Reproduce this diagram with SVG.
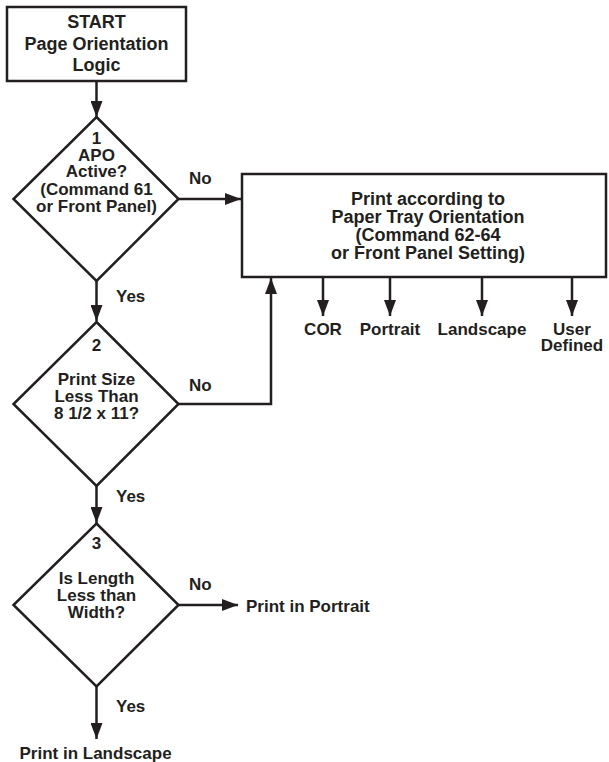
<svg xmlns="http://www.w3.org/2000/svg" width="609" height="762" viewBox="0 0 609 762">
<defs>
<style>
.shape{fill:#fff;stroke:#231f20;stroke-width:2.5}
.line{fill:none;stroke:#231f20;stroke-width:2.5}
text{font-family:"Liberation Sans",Arial,sans-serif;font-weight:bold;fill:#231f20}
.t{font-size:18px;text-anchor:middle}
.d{font-size:17px;text-anchor:middle}
.l{font-size:17px}
.m{font-size:17px;text-anchor:middle}
</style>
<marker id="ah" markerUnits="userSpaceOnUse" markerWidth="16" markerHeight="12" refX="16" refY="6" orient="auto">
<path d="M0,0 L16,6 L0,12 z" fill="#231f20"/>
</marker>
</defs>
<rect width="609" height="762" fill="#fff"/>
<g id="connectors">
<line class="line" x1="96.5" y1="81" x2="96.5" y2="117" marker-end="url(#ah)"/>
<line class="line" x1="178.5" y1="199" x2="241" y2="199" marker-end="url(#ah)"/>
<line class="line" x1="96.5" y1="281" x2="96.5" y2="321" marker-end="url(#ah)"/>
<polyline class="line" points="178.5,404 271,404 271,278" marker-end="url(#ah)"/>
<line class="line" x1="96.5" y1="486" x2="96.5" y2="523" marker-end="url(#ah)"/>
<line class="line" x1="178.5" y1="605" x2="238" y2="605" marker-end="url(#ah)"/>
<line class="line" x1="96.5" y1="686" x2="96.5" y2="739" marker-end="url(#ah)"/>
<line class="line" x1="323" y1="277" x2="323" y2="316" marker-end="url(#ah)"/>
<line class="line" x1="390" y1="277" x2="390" y2="316" marker-end="url(#ah)"/>
<line class="line" x1="482" y1="277" x2="482" y2="316" marker-end="url(#ah)"/>
<line class="line" x1="572" y1="277" x2="572" y2="316" marker-end="url(#ah)"/>
<text class="l" x="189" y="183.5">No</text>
<text class="l" x="116" y="302">Yes</text>
<text class="l" x="189" y="391">No</text>
<text class="l" x="116" y="502">Yes</text>
<text class="l" x="189" y="589.5">No</text>
<text class="l" x="116" y="712">Yes</text>
</g>
<g id="start">
<rect class="shape" x="7" y="7" width="179" height="74"/>
<text class="t" x="96.5" y="28">START</text>
<text class="t" x="96.5" y="49.5">Page Orientation</text>
<text class="t" x="96.5" y="71">Logic</text>
</g>
<g id="decision1">
<polygon class="shape" points="96.5,117 178.5,199 96.5,281 13.5,199"/>
<text class="d" x="96.5" y="143.5">1</text>
<text class="d" x="96.5" y="160.5">APO</text>
<text class="d" x="96.5" y="177">Active?</text>
<text class="d" x="96.5" y="194.5">(Command 61</text>
<text class="d" x="96.5" y="211.5">or Front Panel)</text>
</g>
<g id="tray">
<rect class="shape" x="242" y="174" width="364" height="103"/>
<text class="t" x="428" y="204.5">Print according to</text>
<text class="t" x="428" y="222.5">Paper Tray Orientation</text>
<text class="t" x="428" y="240.5">(Command 62-64</text>
<text class="t" x="428" y="258.5">or Front Panel Setting)</text>
</g>
<g id="cor"><text class="m" x="323" y="334.5">COR</text></g>
<g id="portrait-opt"><text class="m" x="390" y="334.5">Portrait</text></g>
<g id="landscape-opt"><text class="m" x="482" y="334.5">Landscape</text></g>
<g id="user"><text class="m" x="572" y="334.5">User</text><text class="m" x="572" y="350.5">Defined</text></g>
<g id="decision2">
<polygon class="shape" points="96.5,322 178.5,404 96.5,486 13.5,404"/>
<text class="d" x="96.5" y="351">2</text>
<text class="d" x="96.5" y="384.5">Print Size</text>
<text class="d" x="96.5" y="401.5">Less Than</text>
<text class="d" x="96.5" y="418.5">8 1/2 x 11?</text>
</g>
<g id="decision3">
<polygon class="shape" points="96.5,523.5 178.5,605 96.5,686.5 13.5,605"/>
<text class="d" x="96.5" y="549">3</text>
<text class="d" x="96.5" y="583.5">Is Length</text>
<text class="d" x="96.5" y="600.5">Less than</text>
<text class="d" x="96.5" y="617.5">Width?</text>
</g>
<g id="print-portrait"><text class="l" x="246" y="611.5">Print in Portrait</text></g>
<g id="print-landscape"><text class="l" x="19.5" y="759">Print in Landscape</text></g>
</svg>
